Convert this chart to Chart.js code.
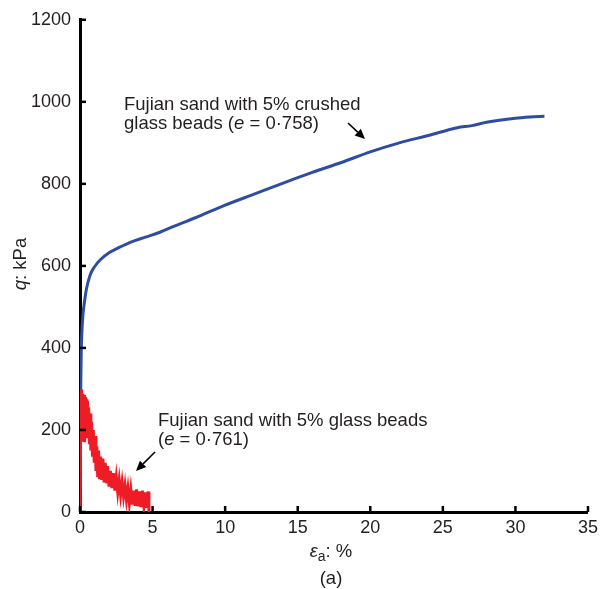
<!DOCTYPE html>
<html>
<head>
<meta charset="utf-8">
<script src="https://cdn.jsdelivr.net/npm/chart.js@4.4.0/dist/chart.umd.min.js"></script>
<style>
html,body{margin:0;padding:0;background:#fff;}
#wrap{width:603px;height:589px;position:relative;}
</style>
</head>
<body>
<div id="wrap"><canvas id="c" width="603" height="589"></canvas></div>
<script>
// ---- data ----
const crushedStrain = [0, 0.02, 0.05, 0.08, 0.12, 0.2, 0.3, 0.45, 0.7, 1.0, 1.4, 2.0, 2.7, 3.5, 4.5, 5.5, 6.5, 8, 10, 12, 14, 16, 18, 20, 22, 24, 26, 27, 28, 30, 31, 32];
const crushedQ      = [0, 150, 300, 380, 430, 480, 510, 545, 578, 598, 615, 632, 645, 658, 670, 682, 697, 718, 748, 775, 802, 828, 852, 878, 900, 918, 937, 942, 950, 960, 963, 965];

const glassStrain = [0, 0.06, 0.07, 0.10, 0.13, 0.16, 0.20, 0.24, 0.28, 0.32, 0.36, 0.40, 0.44, 0.48, 0.52, 0.56, 0.60, 0.65, 0.70, 0.75, 0.80, 0.86, 0.92, 0.98, 1.04, 1.10, 1.16, 1.22, 1.28, 1.35, 1.42, 1.50, 1.58, 1.66, 1.74, 1.82, 1.90, 2.0, 2.1, 2.2, 2.3, 2.4, 2.5, 2.6, 2.7, 2.8, 2.9, 3.0, 3.1, 3.2, 3.3, 3.4, 3.5, 3.6, 3.7, 3.8, 3.9, 4.0, 4.1, 4.2, 4.3, 4.4, 4.5, 4.6, 4.7, 4.75];
const glassQ      = [0, 0, 299, 200, 290, 175, 288, 220, 285, 170, 280, 230, 275, 180, 270, 215, 255, 165, 240, 150, 220, 135, 200, 120, 185, 100, 160, 85, 150, 80, 135, 78, 130, 72, 120, 70, 112, 62, 100, 58, 95, 52, 85, 48, 78, 42, 72, 38, 65, 30, 58, 22, 55, 18, 52, 15, 55, 14, 50, 12, 52, 15, 48, 10, 50, 0];

const xTicks = [0, 5, 10, 15, 20, 25, 30, 35];
const yTicks = [0, 200, 400, 600, 800, 1000, 1200];

const seriesNames = ["Fujian sand with 5% crushed glass beads (e = 0·758)", "Fujian sand with 5% glass beads (e = 0·761)"];

// ---- build ----
const toPts = (xs, ys) => xs.map((x, i) => ({x: x, y: ys[i]}));
const TXT = '#231f20';
const FONT = 'Liberation Sans, Arial, sans-serif';
const FS = 18.5;

function richText(ctx, parts, x, y, align) {
  let total = 0;
  parts.forEach(p => { ctx.font = (p[1] ? 'italic ' : '') + FS + 'px ' + FONT; total += ctx.measureText(p[0]).width; });
  let cx = align === 'center' ? x - total / 2 : x;
  ctx.textAlign = 'left';
  parts.forEach(p => {
    ctx.font = (p[1] ? 'italic ' : '') + FS + 'px ' + FONT;
    ctx.fillText(p[0], cx, y);
    cx += ctx.measureText(p[0]).width;
  });
}

function arrow(ctx, x1, y1, x2, y2) {
  ctx.save();
  ctx.strokeStyle = '#000';
  ctx.fillStyle = '#000';
  ctx.lineWidth = 1.6;
  const ang = Math.atan2(y2 - y1, x2 - x1);
  const hl = 10, hw = 4.5;
  const bx = x2 - hl * Math.cos(ang), by = y2 - hl * Math.sin(ang);
  ctx.beginPath(); ctx.moveTo(x1, y1); ctx.lineTo(bx, by); ctx.stroke();
  ctx.beginPath();
  ctx.moveTo(x2, y2);
  ctx.lineTo(bx + hw * Math.sin(ang), by - hw * Math.cos(ang));
  ctx.lineTo(bx - hw * Math.sin(ang), by + hw * Math.cos(ang));
  ctx.closePath(); ctx.fill();
  ctx.restore();
}

const decor = {
  id: 'decor',
  afterDraw(chart) {
    const ctx = chart.ctx;
    const xs = chart.scales.x, ys = chart.scales.y;
    const a = chart.chartArea;
    ctx.save();
    // inward tick marks
    ctx.strokeStyle = '#000';
    ctx.lineWidth = 2.5;
    xTicks.forEach(v => {
      const px = xs.getPixelForValue(v);
      ctx.beginPath(); ctx.moveTo(px, a.bottom); ctx.lineTo(px, a.bottom - 6); ctx.stroke();
    });
    yTicks.forEach(v => {
      const py = ys.getPixelForValue(v);
      ctx.beginPath(); ctx.moveTo(a.left, py); ctx.lineTo(a.left + 6, py); ctx.stroke();
    });
    ctx.fillStyle = TXT;
    ctx.textBaseline = 'alphabetic';
    // annotations
    richText(ctx, [['Fujian sand with 5% crushed', false]], 124, 110, 'left');
    richText(ctx, [['glass beads (', false], ['e', true], [' = 0·758)', false]], 124, 129, 'left');
    arrow(ctx, 348, 123, 365, 139);
    richText(ctx, [['Fujian sand with 5% glass beads', false]], 158, 426, 'left');
    richText(ctx, [['(', false], ['e', true], [' = 0·761)', false]], 158, 445, 'left');
    arrow(ctx, 155, 452, 136, 471);
    // x title: εa: %
    ctx.font = 'italic ' + FS + 'px ' + FONT;
    const w1 = ctx.measureText('ε').width;
    ctx.font = '14px ' + FONT;
    const w2 = ctx.measureText('a').width;
    ctx.font = FS + 'px ' + FONT;
    const w3 = ctx.measureText(': %').width;
    let sx = 331 - (w1 + w2 + w3) / 2;
    ctx.textAlign = 'left';
    ctx.font = 'italic ' + FS + 'px ' + FONT; ctx.fillText('ε', sx, 557); sx += w1;
    ctx.font = '14px ' + FONT; ctx.fillText('a', sx, 561); sx += w2;
    ctx.font = FS + 'px ' + FONT; ctx.fillText(': %', sx, 557);
    // caption
    ctx.textAlign = 'center';
    ctx.font = FS + 'px ' + FONT;
    ctx.fillText('(a)', 331, 584);
    // y title
    ctx.save();
    ctx.translate(26, 264);
    ctx.rotate(-Math.PI / 2);
    richText(ctx, [['q', true], [': kPa', false]], 0, 0, 'center');
    ctx.restore();
    ctx.restore();
  }
};

new Chart(document.getElementById('c'), {
  type: 'scatter',
  data: {
    datasets: [
      {label: seriesNames[0], data: toPts(crushedStrain, crushedQ), showLine: true, borderColor: '#2f4da0', borderWidth: 3, pointRadius: 0, tension: 0.3, cubicInterpolationMode: 'monotone', order: 2},
      {label: seriesNames[1], data: toPts(glassStrain, glassQ), showLine: true, borderColor: '#ee1c25', borderWidth: 3, pointRadius: 0, tension: 0, order: 1}
    ]
  },
  options: {
    responsive: false,
    animation: false,
    layout: {autoPadding: false, padding: {left: 0, top: 15, right: 11, bottom: 0}},
    plugins: {legend: {display: false}, tooltip: {enabled: false}, title: {display: false}},
    scales: {
      x: {
        type: 'linear', min: 0, max: 35,
        afterFit: s => { s.height = 77; },
        afterBuildTicks: s => { s.ticks = xTicks.map(v => ({value: v})); },
        grid: {display: false, drawTicks: false},
        border: {display: true, color: '#000', width: 3},
        ticks: {color: TXT, font: {family: FONT, size: 18}, padding: 5, maxRotation: 0, callback: v => String(v)}
      },
      y: {
        type: 'linear', min: 0, max: 1200,
        afterFit: s => { s.width = 80; },
        afterBuildTicks: s => { s.ticks = yTicks.map(v => ({value: v})); },
        grid: {display: false, drawTicks: false},
        border: {display: true, color: '#000', width: 3},
        ticks: {color: TXT, font: {family: FONT, size: 18}, padding: 9, callback: v => String(v)}
      }
    }
  },
  plugins: [decor]
});
</script>
</body>
</html>
